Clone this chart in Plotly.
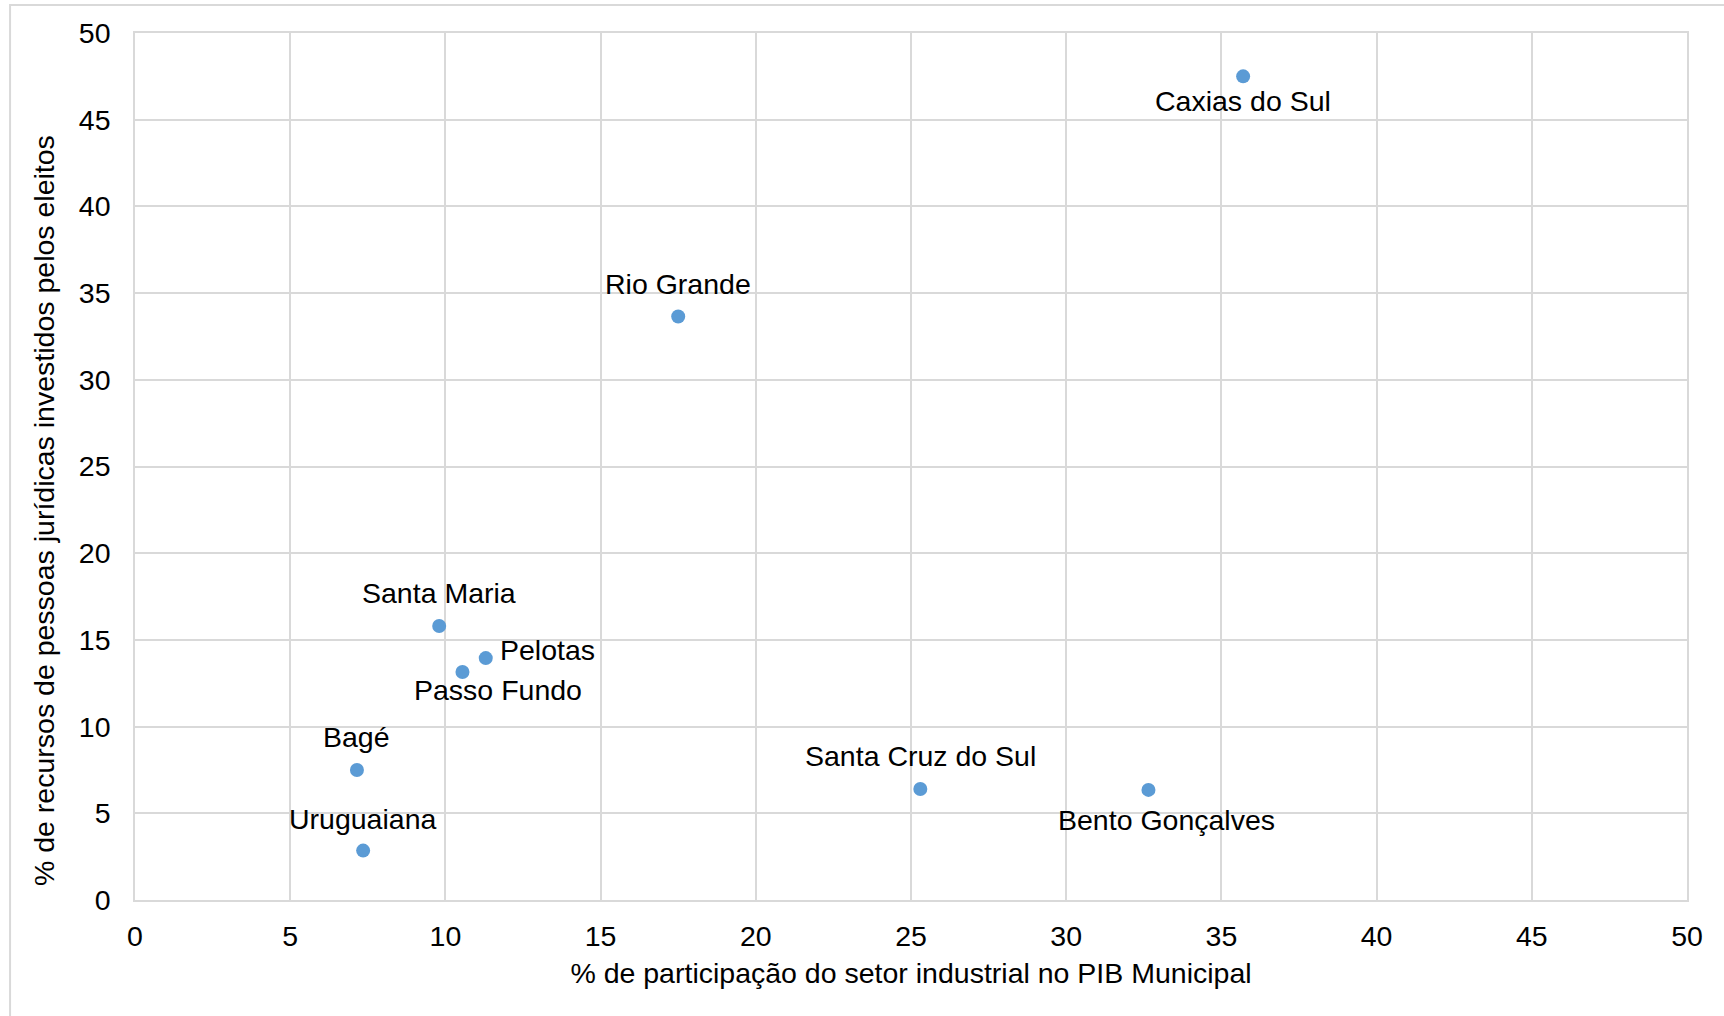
import plotly.graph_objects as go

# Data
cities = ["Caxias do Sul", "Rio Grande", "Santa Maria", "Pelotas", "Passo Fundo",
          "Bagé", "Uruguaiana", "Santa Cruz do Sul", "Bento Gonçalves"]
industry_share = [35.7, 17.5, 9.8, 11.3, 10.55, 7.15, 7.35, 25.3, 32.65]
corporate_funds = [47.5, 33.65, 15.8, 13.95, 13.15, 7.5, 2.85, 6.4, 6.35]

x_title = "% de participação do setor industrial no PIB Municipal"
y_title = "% de recursos de pessoas jurídicas investidos pelos eleitos"

# Label styling (offsets in pixels, anchors)
label_style = {
    "Caxias do Sul": dict(xshift=0, yshift=-25, xanchor="center"),
    "Rio Grande": dict(xshift=0, yshift=33, xanchor="center"),
    "Santa Maria": dict(xshift=0, yshift=33, xanchor="center"),
    "Pelotas": dict(xshift=12, yshift=8, xanchor="left"),
    "Passo Fundo": dict(xshift=36, yshift=-18, xanchor="center"),
    "Bagé": dict(xshift=0, yshift=33, xanchor="center"),
    "Uruguaiana": dict(xshift=0, yshift=32, xanchor="center"),
    "Santa Cruz do Sul": dict(xshift=0, yshift=33, xanchor="center"),
    "Bento Gonçalves": dict(xshift=18, yshift=-30, xanchor="center"),
}

FONT = "Liberation Sans, Arial, sans-serif"
FS = 28.5
GRID = "#d9d9d9"

fig = go.Figure()
fig.add_trace(go.Scatter(
    x=industry_share, y=corporate_funds, mode="markers",
    marker=dict(color="#5B9BD5", size=14),
    hoverinfo="text", text=cities, showlegend=False,
))

for name, xv, yv in zip(cities, industry_share, corporate_funds):
    st = label_style[name]
    fig.add_annotation(x=xv, y=yv, text=name, showarrow=False,
                       xanchor=st["xanchor"], yanchor="middle",
                       xshift=st["xshift"], yshift=st["yshift"],
                       font=dict(family=FONT, size=FS, color="#000000"))

axis_common = dict(
    range=[0, 50], dtick=5, tick0=0,
    showgrid=True, gridcolor=GRID, gridwidth=1.5,
    showline=True, linecolor=GRID, linewidth=1.5, mirror=True,
    zeroline=False, ticks="", automargin=False,
    tickfont=dict(family=FONT, size=FS, color="#000000"),
)

fig.update_xaxes(**axis_common, ticklabelstandoff=10,
                 title=dict(text=x_title, font=dict(family=FONT, size=FS, color="#000000"), standoff=12))
fig.update_yaxes(**axis_common, ticklabelstandoff=17)

# y-axis title (placed slightly below the plot centre, as in the original)
fig.add_annotation(xref="paper", yref="paper", x=-0.0586, y=0.4487,
                   text=y_title, textangle=-90, showarrow=False,
                   xanchor="center", yanchor="middle",
                   font=dict(family=FONT, size=FS, color="#000000"))

# outer chart border (plot area spans 1552 x 867 px)
fig.add_shape(type="rect", xref="paper", yref="paper",
              x0=-0.0805, x1=1.03, y0=-0.14, y1=1.0323,
              line=dict(color=GRID, width=2), fillcolor="rgba(0,0,0,0)", layer="below")

fig.update_layout(
    width=1724, height=1016,
    margin=dict(l=135, r=37, t=33, b=116),
    plot_bgcolor="white", paper_bgcolor="white",
    font=dict(family=FONT),
)

fig.write_html("out.html",
               config={"displayModeBar": False},
               post_script="document.body.style.margin='0';document.body.style.overflow='hidden';")
